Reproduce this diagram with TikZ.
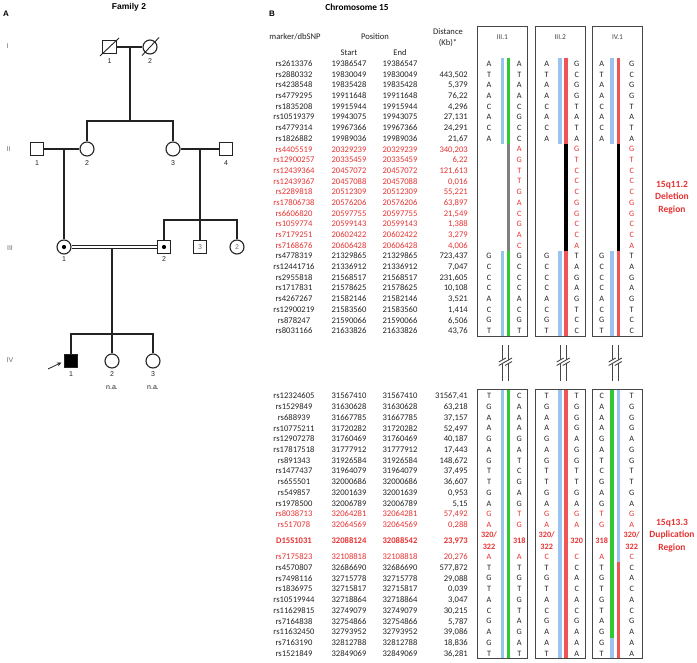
\documentclass[tikz,border=0pt]{standalone}
\usepackage{fontspec}
\setmainfont{Carlito}
\newfontfamily\arialf{Liberation Sans}
\usetikzlibrary{arrows.meta}
\definecolor{hblue}{RGB}{155,195,240}
\definecolor{hgreen}{RGB}{50,200,50}
\definecolor{hred}{RGB}{240,85,85}
\definecolor{tred}{RGB}{232,50,50}
\definecolor{tdark}{RGB}{35,35,35}
\definecolor{lgray}{RGB}{110,110,110}
\definecolor{frgray}{RGB}{70,70,70}
\newcommand\trow[6]{%
  \node[tx,#6] (mk#1) at (294,0 |- #1) {#2};
  \node[tx,#6] (st#1) at (349,0 |- #1) {#3};
  \node[tx,#6] (en#1) at (400,0 |- #1) {#4};
  \node[tx,#6,anchor=east] (di#1) at (468,0 |- #1) {#5};}
\newcommand\hcol[6]{\foreach \c [count=\k from #4] in {#5} {\node[hl,#6] (#1\k) at (#2,0 |- #3\k) {\c};}}
\begin{document}
\begin{tikzpicture}[x=1pt,y=-1pt,
  tx/.style={inner sep=0pt,text=tdark,font=\fontsize{8.6}{10}\selectfont,text height=5.6pt,text depth=0pt},
  rd/.style={text=tred},
  rdb/.style={text=tred,font=\fontsize{8.6}{10}\selectfont\bfseries},
  hl/.style={inner sep=0pt,text=tdark,font=\fontsize{8.2}{10}\selectfont,text height=5.3pt,text depth=0pt},
  hlm/.style={inner sep=0pt,text=tred,font=\fontsize{8.2}{11.4}\selectfont\bfseries,align=center},
  ped/.style={draw=tdark,line width=1.1pt},
  msq/.style={rectangle,draw=tdark,line width=1.1pt,minimum size=13.5pt,inner sep=0pt,fill=white,font=\arialf\fontsize{7}{8}\selectfont,text=lgray},
  fcir/.style={circle,draw=tdark,line width=1.1pt,minimum size=14pt,inner sep=0pt,fill=white,font=\arialf\fontsize{7}{8}\selectfont,text=lgray},
  cdot/.style={circle,fill=black,minimum size=4.2pt,inner sep=0pt},
  plab/.style={inner sep=0pt,font=\arialf\fontsize{7}{8}\selectfont,text=tdark},
  glab/.style={inner sep=0pt,font=\arialf\fontsize{7}{8}\selectfont,text=lgray},
  boxlab/.style={inner sep=0pt,font=\fontsize{7.4}{8}\selectfont,text=tdark!85},
  reg/.style={inner sep=0pt,align=center,text=tred,font=\fontsize{9.5}{12.4}\selectfont\bfseries},
  frame/.style={draw=frgray,line width=1pt},
  bar/.style={line width=3.6pt},
  brk/.style={draw=frgray,line width=1.1pt},
  brks/.style={draw=frgray,line width=0.9pt}
]
\useasboundingbox (0,0) rectangle (697,663);
\fill[white] (0,0) rectangle (697,663);

% ---------------- Panel A: pedigree ----------------
\node[inner sep=0pt,font=\arialf\fontsize{8}{9}\selectfont\bfseries] (lblA) at (6,14) {A};
\node[inner sep=0pt,font=\arialf\fontsize{8.5}{10}\selectfont\bfseries] (fam) at (129,7) {Family 2};
\node[glab] (gI) at (7.5,46.5) {I};
\node[glab] (gII) at (8.5,149) {II};
\node[glab] (gIII) at (10,248) {III};
\node[glab] (gIV) at (10,360.5) {IV};

\node[msq] (I1) at (109.5,47) {};
\node[fcir] (I2) at (150,47) {};
\node[msq] (II1) at (37,149) {};
\node[fcir] (II2) at (87,149) {};
\node[fcir] (II3) at (173,149) {};
\node[msq] (II4) at (226,149) {};
\node[fcir] (III1) at (64,247) {};
\node[msq] (III2) at (164,247) {};
\node[msq] (III3) at (200,247) {3};
\node[fcir] (III4) at (237,247) {2};
\node[msq,fill=black] (IV1) at (71,361) {};
\node[fcir] (IV2) at (112,361) {};
\node[fcir] (IV3) at (153,361) {};
\node[cdot] (III1d) at (III1) {};
\node[cdot] (III2d) at (III2) {};

% deceased
\draw[ped,line width=0.9pt] ([shift={(-9.5,9)}]I1.center) -- ([shift={(9.5,-9)}]I1.center);
\draw[ped,line width=0.9pt] ([shift={(-8,8.5)}]I2.center) -- ([shift={(9,-9.5)}]I2.center);

\coordinate (Ic) at (130,47);
\coordinate (Is) at (130,121);
\draw[ped] (I1) -- (I2);
\draw[ped] (Ic) -- (Is);
\draw[ped] (II2) -- (II2 |- Is) -- (II3 |- Is) -- (II3);
\draw[ped] (II1) -- (II2);
\coordinate (IIa) at (64,149);
\draw[ped] (IIa) -- (III1);
\draw[ped] (II3) -- (II4);
\coordinate (IIb) at (200,149);
\coordinate (IIbs) at (200,220);
\draw[ped] (IIb) -- (IIbs);
\draw[ped] (III2) -- (III2 |- IIbs) -- (III4 |- IIbs) -- (III4);
\draw[ped] (IIbs) -- (III3);
\draw[ped,line width=0.9pt] ([yshift=1.7pt]III1.east) -- ([yshift=1.7pt]III2.west);
\draw[ped,line width=0.9pt] ([yshift=-1.7pt]III1.east) -- ([yshift=-1.7pt]III2.west);
\coordinate (IIIc) at (112,248.7);
\coordinate (IIIs) at (112,334);
\draw[ped] (IIIc) -- (IIIs);
\draw[ped] (IV1) -- (IV1 |- IIIs) -- (IV3 |- IIIs) -- (IV3);
\draw[ped] (IIIs) -- (IV2);
\coordinate (arrS) at (48,369);
\coordinate (arrT) at (61.5,362.5);
\draw[draw=tdark,line width=0.8pt,-{Stealth[length=4.5pt,width=4pt]}] (arrS) -- (arrT);

\node[plab] (nI1) at (109.5,61) {1};
\node[plab] (nI2) at (150,61) {2};
\node[plab] (nII1) at (37,163) {1};
\node[plab] (nII2) at (87,163) {2};
\node[plab] (nII3) at (173,163) {3};
\node[plab] (nII4) at (226,163) {4};
\node[plab] (nIII1) at (64,259.5) {1};
\node[plab] (nIII2) at (164,259.5) {2};
\node[plab] (nIV1) at (71,374) {1};
\node[plab] (nIV2) at (112,374) {2};
\node[plab] (nIV3) at (153,374) {3};
\node[plab] (naIV2) at (112,388) {n.a.};
\node[plab] (naIV3) at (153,388) {n.a.};

% ---------------- Panel B: table ----------------
\node[inner sep=0pt,font=\arialf\fontsize{8}{9}\selectfont\bfseries] (lblB) at (272,14) {B};
\node[inner sep=0pt,font=\fontsize{9.3}{11}\selectfont\bfseries] (chr) at (357,7) {Chromosome 15};
\node[tx] (hMk) at (295,37) {marker/dbSNP};
\node[tx] (hPos) at (375,37) {Position};
\node[tx] (hSt) at (349,53) {Start};
\node[tx] (hEn) at (400,53) {End};
\node[tx] (hDi) at (448,32) {Distance};
\node[tx] (hKb) at (448,43) {(Kb)*};

\foreach \i in {1,...,26} \coordinate (t\i) at (0,{63.7+(\i-1)*10.69});
\foreach \i in {1,...,13} \coordinate (b\i) at (0,{396+(\i-1)*10.74});
\coordinate (b14) at (0,540.7);
\foreach \i in {15,...,24} \coordinate (b\i) at (0,{556.7+(\i-15)*10.75});

\trow{t1}{rs2613376}{19386547}{19386547}{}{}
\trow{t2}{rs2880332}{19830049}{19830049}{443,502}{}
\trow{t3}{rs4238548}{19835428}{19835428}{5,379}{}
\trow{t4}{rs4779295}{19911648}{19911648}{76,22}{}
\trow{t5}{rs1835208}{19915944}{19915944}{4,296}{}
\trow{t6}{rs10519379}{19943075}{19943075}{27,131}{}
\trow{t7}{rs4779314}{19967366}{19967366}{24,291}{}
\trow{t8}{rs1826882}{19989036}{19989036}{21,67}{}
\trow{t9}{rs4405519}{20329239}{20329239}{340,203}{rd}
\trow{t10}{rs12900257}{20335459}{20335459}{6,22}{rd}
\trow{t11}{rs12439364}{20457072}{20457072}{121,613}{rd}
\trow{t12}{rs12439367}{20457088}{20457088}{0,016}{rd}
\trow{t13}{rs2289818}{20512309}{20512309}{55,221}{rd}
\trow{t14}{rs17806738}{20576206}{20576206}{63,897}{rd}
\trow{t15}{rs6606820}{20597755}{20597755}{21,549}{rd}
\trow{t16}{rs1059774}{20599143}{20599143}{1,388}{rd}
\trow{t17}{rs7179251}{20602422}{20602422}{3,279}{rd}
\trow{t18}{rs7168676}{20606428}{20606428}{4,006}{rd}
\trow{t19}{rs4778319}{21329865}{21329865}{723,437}{}
\trow{t20}{rs12441716}{21336912}{21336912}{7,047}{}
\trow{t21}{rs2955818}{21568517}{21568517}{231,605}{}
\trow{t22}{rs1717831}{21578625}{21578625}{10,108}{}
\trow{t23}{rs4267267}{21582146}{21582146}{3,521}{}
\trow{t24}{rs12900219}{21583560}{21583560}{1,414}{}
\trow{t25}{rs878247}{21590066}{21590066}{6,506}{}
\trow{t26}{rs8031166}{21633826}{21633826}{43,76}{}

\trow{b1}{rs12324605}{31567410}{31567410}{31567,41}{}
\trow{b2}{rs1529849}{31630628}{31630628}{63,218}{}
\trow{b3}{rs688939}{31667785}{31667785}{37,157}{}
\trow{b4}{rs10775211}{31720282}{31720282}{52,497}{}
\trow{b5}{rs12907278}{31760469}{31760469}{40,187}{}
\trow{b6}{rs17817518}{31777912}{31777912}{17,443}{}
\trow{b7}{rs891343}{31926584}{31926584}{148,672}{}
\trow{b8}{rs1477437}{31964079}{31964079}{37,495}{}
\trow{b9}{rs655501}{32000686}{32000686}{36,607}{}
\trow{b10}{rs549857}{32001639}{32001639}{0,953}{}
\trow{b11}{rs1978500}{32006789}{32006789}{5,15}{}
\trow{b12}{rs8038713}{32064281}{32064281}{57,492}{rd}
\trow{b13}{rs517078}{32064569}{32064569}{0,288}{rd}
\trow{b14}{D15S1031}{32088124}{32088542}{23,973}{rdb}
\trow{b15}{rs7175823}{32108818}{32108818}{20,276}{rd}
\trow{b16}{rs4570807}{32686690}{32686690}{577,872}{}
\trow{b17}{rs7498116}{32715778}{32715778}{29,088}{}
\trow{b18}{rs1836975}{32715817}{32715817}{0,039}{}
\trow{b19}{rs10519944}{32718864}{32718864}{3,047}{}
\trow{b20}{rs11629815}{32749079}{32749079}{30,215}{}
\trow{b21}{rs7164838}{32754866}{32754866}{5,787}{}
\trow{b22}{rs11632450}{32793952}{32793952}{39,086}{}
\trow{b23}{rs7163190}{32812788}{32812788}{18,836}{}
\trow{b24}{rs1521849}{32849069}{32849069}{36,281}{}

% ---------------- haplotype boxes ----------------
\draw[frame] (477.3,26.7) rectangle (527.3,336.5);
\draw[frame] (535.3,26.7) rectangle (585,336.5);
\draw[frame] (592.7,26.7) rectangle (642.3,336.5);
\draw[frame] (477.3,390) rectangle (527.3,658);
\draw[frame] (535.3,390) rectangle (585,658);
\draw[frame] (592.7,390) rectangle (642.3,658);
\node[boxlab] (lab1) at (502.3,37) {III.1};
\node[boxlab] (lab2) at (560.2,37) {III.2};
\node[boxlab] (lab3) at (617.5,37) {IV.1};

% bars top
\draw[bar,hblue] (502.3,57.7) -- (502.3,144); \draw[bar,hblue] (502.3,250.8) -- (502.3,336.5);
\draw[bar,hgreen] (508.5,57.7) -- (508.5,144); \draw[bar,gray] (508.5,144) -- (508.5,250.8); \draw[bar,hgreen] (508.5,250.8) -- (508.5,336.5);
\draw[bar,hblue] (560.2,57.7) -- (560.2,144); \draw[bar,hblue] (560.2,250.8) -- (560.2,336.5);
\draw[bar,hred] (566.2,57.7) -- (566.2,144); \draw[bar,black] (566.2,144) -- (566.2,250.8); \draw[bar,hred] (566.2,250.8) -- (566.2,336.5);
\draw[bar,hblue] (612.2,57.7) -- (612.2,144); \draw[bar,hblue] (612.2,250.8) -- (612.2,336.5);
\draw[bar,hred] (618.3,57.7) -- (618.3,144); \draw[bar,black] (618.3,144) -- (618.3,250.8); \draw[bar,hred] (618.3,250.8) -- (618.3,336.5);
% bars bottom
\draw[bar,hblue] (502.3,390) -- (502.3,658);
\draw[bar,hgreen] (508.5,390) -- (508.5,658);
\draw[bar,hblue] (560.2,390) -- (560.2,658);
\draw[bar,hred] (566.2,390) -- (566.2,658);
\draw[bar,hgreen] (612.2,390) -- (612.2,637.5); \draw[bar,hblue] (612.2,637.5) -- (612.2,658);
\draw[bar,hblue] (618.3,390) -- (618.3,562); \draw[bar,hred] (618.3,562) -- (618.3,658);

% break marks
\foreach \bx in {502.3,508.5,560.2,566.2,612.2,618.3} {
  \draw[brk] (\bx,345) -- (\bx,381.5);
  \fill[white] (\bx-3.5,362) -- (\bx+3.5,358) -- (\bx+3.5,361.5) -- (\bx-3.5,365.5) -- cycle;
  \draw[brks] (\bx-3.5,362) -- (\bx+3.5,358) (\bx-3.5,365.5) -- (\bx+3.5,361.5);
}

% letters top
\hcol{tAL}{489}{t}{1}{A,T,A,A,C,A,C,A}{}
\hcol{tAL}{489}{t}{19}{G,C,C,C,A,C,G,T}{}
\hcol{tAR}{519.3}{t}{1}{A,T,A,A,C,G,C,C}{}
\hcol{tAR}{519.3}{t}{9}{A,G,T,T,G,A,C,G,A,C}{rd}
\hcol{tAR}{519.3}{t}{19}{G,C,C,C,A,C,G,T}{}
\hcol{tBL}{546.7}{t}{1}{A,T,A,A,C,A,C,A}{}
\hcol{tBL}{546.7}{t}{19}{G,C,C,C,A,C,G,T}{}
\hcol{tBR}{576.7}{t}{1}{G,C,G,G,T,A,T,A}{}
\hcol{tBR}{576.7}{t}{9}{G,T,C,C,C,G,G,C,C,A}{rd}
\hcol{tBR}{576.7}{t}{19}{T,A,G,A,G,T,C,C}{}
\hcol{tCL}{601.7}{t}{1}{A,T,A,A,C,A,C,A}{}
\hcol{tCL}{601.7}{t}{19}{G,C,C,C,A,C,G,T}{}
\hcol{tCR}{631.7}{t}{1}{G,C,G,G,T,A,T,A}{}
\hcol{tCR}{631.7}{t}{9}{G,T,C,C,C,G,G,C,C,A}{rd}
\hcol{tCR}{631.7}{t}{19}{T,A,G,A,G,T,C,C}{}

% letters bottom
\hcol{bAL}{489}{b}{1}{T,G,A,A,G,A,G,T,T,G,A}{}
\hcol{bAL}{489}{b}{12}{G,A}{rd}
\node[hlm] (bAL14) at (489,0 |- b14) {320/\\322};
\hcol{bAL}{489}{b}{15}{A}{rd}
\hcol{bAL}{489}{b}{16}{T,G,T,A,C,G,A,G,T}{}
\hcol{bAR}{519.3}{b}{1}{C,A,A,A,G,A,T,C,G,A,G}{}
\hcol{bAR}{519.3}{b}{12}{T,G}{rd}
\node[hlm] (bAR14) at (519.3,0 |- b14) {318};
\hcol{bAR}{519.3}{b}{15}{A}{rd}
\hcol{bAR}{519.3}{b}{16}{T,G,T,G,T,A,G,A,T}{}
\hcol{bBL}{546.7}{b}{1}{T,G,A,A,G,A,G,T,T,G,A}{}
\hcol{bBL}{546.7}{b}{12}{G,A}{rd}
\node[hlm] (bBL14) at (546.7,0 |- b14) {320/\\322};
\hcol{bBL}{546.7}{b}{15}{C}{rd}
\hcol{bBL}{546.7}{b}{16}{T,G,T,A,C,G,A,A,T}{}
\hcol{bBR}{576.7}{b}{1}{T,G,G,G,A,G,G,T,T,G,A}{}
\hcol{bBR}{576.7}{b}{12}{G,A}{rd}
\node[hlm] (bBR14) at (576.7,0 |- b14) {320};
\hcol{bBR}{576.7}{b}{15}{C}{rd}
\hcol{bBR}{576.7}{b}{16}{C,A,C,A,C,G,A,A,A}{}
\hcol{bCL}{601.7}{b}{1}{C,A,A,A,G,A,T,C,G,A,G}{}
\hcol{bCL}{601.7}{b}{12}{T,G}{rd}
\node[hlm] (bCL14) at (601.7,0 |- b14) {318};
\hcol{bCL}{601.7}{b}{15}{A}{rd}
\hcol{bCL}{601.7}{b}{16}{T,G,T,G,T,A,G,G,T}{}
\hcol{bCR}{631.7}{b}{1}{T,G,G,G,A,G,G,T,T,G,A}{}
\hcol{bCR}{631.7}{b}{12}{G,A}{rd}
\node[hlm] (bCR14) at (631.7,0 |- b14) {320/\\322};
\hcol{bCR}{631.7}{b}{15}{C}{rd}
\hcol{bCR}{631.7}{b}{16}{C,A,C,A,C,G,A,A,A}{}

% region labels
\node[reg] (reg1) at (672,197.5) {15q11.2\\Deletion\\Region};
\node[reg] (reg2) at (672,535.5) {15q13.3\\Duplication\\Region};
\end{tikzpicture}
\end{document}
